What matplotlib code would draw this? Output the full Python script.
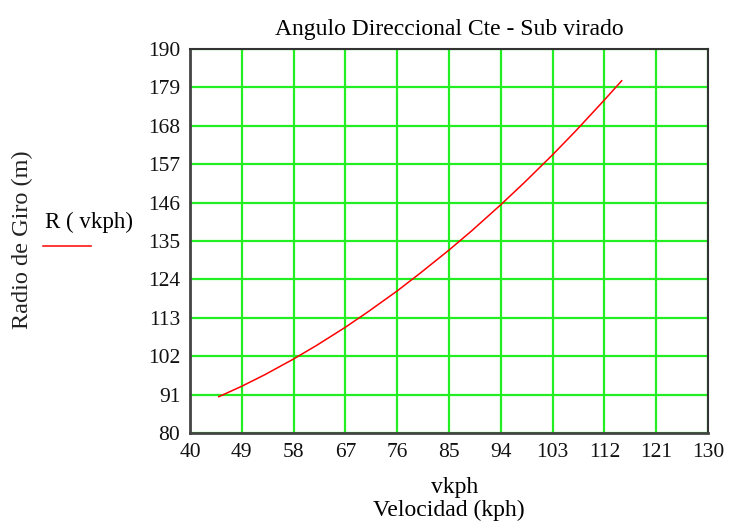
import matplotlib
matplotlib.use('agg')
import matplotlib.pyplot as plt

# values
vkph = [45, 49, 53, 58, 62, 67, 71, 76, 80, 85, 89, 94, 98, 103, 107, 112, 115]
radio = [90.4, 93.4, 96.7, 101.2, 105.1, 110.3, 114.8, 120.7, 125.8, 132.4,
         138.0, 145.4, 151.6, 159.7, 166.5, 175.4, 180.9]

xticks = [40, 49, 58, 67, 76, 85, 94, 103, 112, 121, 130]
yticks = [80, 91, 102, 113, 124, 135, 146, 157, 168, 179, 190]

plt.rcParams['font.family'] = ['Liberation Serif', 'DejaVu Serif']

fig = plt.figure(figsize=(7.3, 5.22), dpi=100)
ax = fig.add_axes([190/730, 1-433/522, 518/730, 384/522])

ax.plot(vkph, radio, color='red', lw=1.1)
ax.set_xlim(40, 130)
ax.set_ylim(80, 190)
ax.set_xticks(xticks)
ax.set_yticks(yticks)
ax.grid(True, color='#22ee22', lw=1.6)
ax.set_axisbelow(True)
ax.tick_params(length=0, labelsize=15.5, pad=7, colors='#111111')
for s in ['left', 'bottom']:
    ax.spines[s].set_linewidth(2)
    ax.spines[s].set_color('#444444')
for s in ['top', 'right']:
    ax.spines[s].set_linewidth(1.5)
    ax.spines[s].set_color('#333333')

fig.text(449/730, 1-30/522, 'Angulo Direccional Cte - Sub virado', ha='center', va='center', fontsize=17)
fig.text(22/730, 1-240/522, 'Radio de Giro (m)', rotation=90, ha='center', va='center', fontsize=17.5, color='#222222')
fig.text(89/730, 1-222/522, 'R ( vkph)', ha='center', va='center', fontsize=16.5)
fig.add_artist(plt.Line2D([43/730, 91/730], [1-246/522, 1-246/522], color='red', lw=1.1))
fig.text(455/730, 1-488/522, 'vkph', ha='center', va='center', fontsize=17)
fig.text(449/730, 1-510/522, 'Velocidad (kph)', ha='center', va='center', fontsize=17)

fig.savefig('out.png', dpi=100)
